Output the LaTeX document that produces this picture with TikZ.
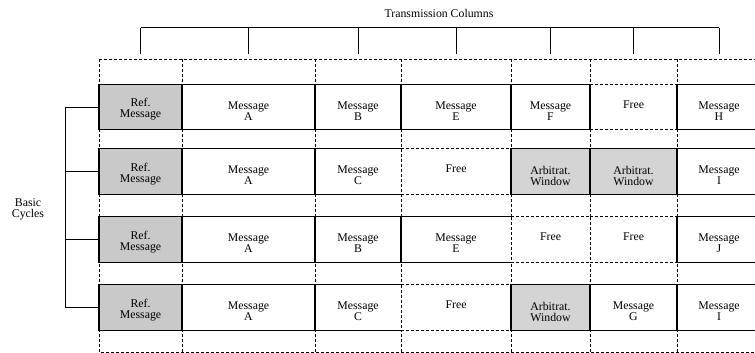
\documentclass[tikz,border=0pt]{standalone}
\usepackage{fontspec}
\setmainfont{Liberation Serif}
\definecolor{refgray}{gray}{0.79}
\definecolor{arbgray}{gray}{0.83}
\tikzset{
  cellbase/.style={rectangle, inner sep=0pt, outer sep=0pt, minimum height=45.5pt},
  w1/.style={minimum width=83pt},
  w2/.style={minimum width=133pt},
  w3/.style={minimum width=86pt},
  w4/.style={minimum width=110pt},
  w5/.style={minimum width=79pt},
  w6/.style={minimum width=87pt},
  w7/.style={minimum width=84pt},
  celltext/.style={align=center, inner sep=0pt},
  msgtext/.style={celltext, yshift=-4pt},
  reftext/.style={celltext, yshift=-2.5pt},
  freetext/.style={celltext, yshift=2.8pt},
  refcell/.style={cellbase, fill=refgray, label={[reftext]center:{Ref.\\Message}}},
  msg/.style={cellbase, fill=white, label={[msgtext]center:{Message\\#1}}},
  arb/.style={cellbase, fill=arbgray, label={[msgtext]center:{Arbitrat.\\Window}}},
  free/.style={cellbase, fill=white, label={[freetext]center:{Free}}},
  solidedge/.style={line width=1.15pt, line cap=rect},
  dashedge/.style={line width=0.9pt, dash pattern=on 3pt off 2pt},
  gridline/.style={line width=0.9pt, dash pattern=on 3pt off 2pt},
  bracket/.style={line width=1pt},
}
\begin{document}
\begin{tikzpicture}[x=1pt, y=-1pt, font=\fontsize{11.8pt}{11pt}\selectfont]
\useasboundingbox (0,0) rectangle (755,353);
\clip (0,0) rectangle (755,353);

% dashed slot grid behind the cycles
\draw[gridline] (99,59) rectangle (790,352);
\foreach \x in {182,315,401,511,590,677}
  \draw[gridline] (\x,59) -- (\x,352);

% basic cycle 1
\node[refcell, w1] (r1c1) at (140.5,107) {};
\node[msg=A, w2]   (r1c2) at (248.5,107) {};
\node[msg=B, w3]   (r1c3) at (358,107) {};
\node[msg=E, w4]   (r1c4) at (456,107) {};
\node[msg=F, w5]   (r1c5) at (550.5,107) {};
\node[free, w6]    (r1c6) at (633.5,107) {};
\node[msg=H, w7]   (r1c7) at (719,107) {};
% basic cycle 2
\node[refcell, w1] (r2c1) at (140.5,171.5) {};
\node[msg=A, w2]   (r2c2) at (248.5,171.5) {};
\node[msg=C, w3]   (r2c3) at (358,171.5) {};
\node[free, w4]    (r2c4) at (456,171.5) {};
\node[arb, w5]     (r2c5) at (550.5,171.5) {};
\node[arb, w6]     (r2c6) at (633.5,171.5) {};
\node[msg=I, w7]   (r2c7) at (719,171.5) {};
% basic cycle 3
\node[refcell, w1] (r3c1) at (140.5,239.5) {};
\node[msg=A, w2]   (r3c2) at (248.5,239.5) {};
\node[msg=B, w3]   (r3c3) at (358,239.5) {};
\node[msg=E, w4]   (r3c4) at (456,239.5) {};
\node[free, w5]    (r3c5) at (550.5,239.5) {};
\node[free, w6]    (r3c6) at (633.5,239.5) {};
\node[msg=J, w7]   (r3c7) at (719,239.5) {};
% basic cycle 4
\node[refcell, w1] (r4c1) at (140.5,307.5) {};
\node[msg=A, w2]   (r4c2) at (248.5,307.5) {};
\node[msg=C, w3]   (r4c3) at (358,307.5) {};
\node[free, w4]    (r4c4) at (456,307.5) {};
\node[arb, w5]     (r4c5) at (550.5,307.5) {};
\node[msg=G, w6]   (r4c6) at (633.5,307.5) {};
\node[msg=I, w7]   (r4c7) at (719,307.5) {};

% free slots: dashed top and bottom
\foreach \n in {r1c6,r2c4,r3c5,r3c6,r4c4}
  \draw[dashedge] (\n.north west) -- (\n.north east) (\n.south west) -- (\n.south east);
% dashed separators in front of free slots
\foreach \n in {r2c3,r3c4,r3c5,r4c3}
  \draw[dashedge] (\n.north east) -- (\n.south east);

% occupied slots: solid top and bottom
\foreach \n in {r1c1,r1c2,r1c3,r1c4,r1c5,r1c7,
                r2c1,r2c2,r2c3,r2c5,r2c6,r2c7,
                r3c1,r3c2,r3c3,r3c4,r3c7,
                r4c1,r4c2,r4c3,r4c5,r4c6,r4c7}
  \draw[solidedge] (\n.north west) -- (\n.north east) (\n.south west) -- (\n.south east);
% solid separators
\foreach \n in {r1c1,r1c2,r1c3,r1c4,r1c5,r1c6,
                r2c1,r2c2,r2c4,r2c5,r2c6,
                r3c1,r3c2,r3c3,r3c6,
                r4c1,r4c2,r4c4,r4c5,r4c6}
  \draw[solidedge] (\n.north east) -- (\n.south east);
\foreach \r in {1,...,4}
  \draw[solidedge] (r\r c1.north west) -- (r\r c1.south west);

% transmission columns bracket
\node (cols) at (439,13.5) {Transmission Columns};
\coordinate (tb) at (0,28);
\coordinate (te) at (0,54);
\draw[bracket] (r1c1 |- tb) -- (r1c7 |- tb);
\foreach \c in {1,...,7}
  \draw[bracket] (r1c\c |- tb) -- (r1c\c |- te);

% basic cycles bracket
\node[align=center] (cycles) at (28,209) {Basic\\Cycles};
\coordinate (lb) at (65,0);
\draw[bracket] (r1c1.west -| lb) -- (r4c1.west -| lb);
\foreach \r in {1,...,4}
  \draw[bracket] (r\r c1.west -| lb) -- (r\r c1.west);
\end{tikzpicture}
\end{document}
